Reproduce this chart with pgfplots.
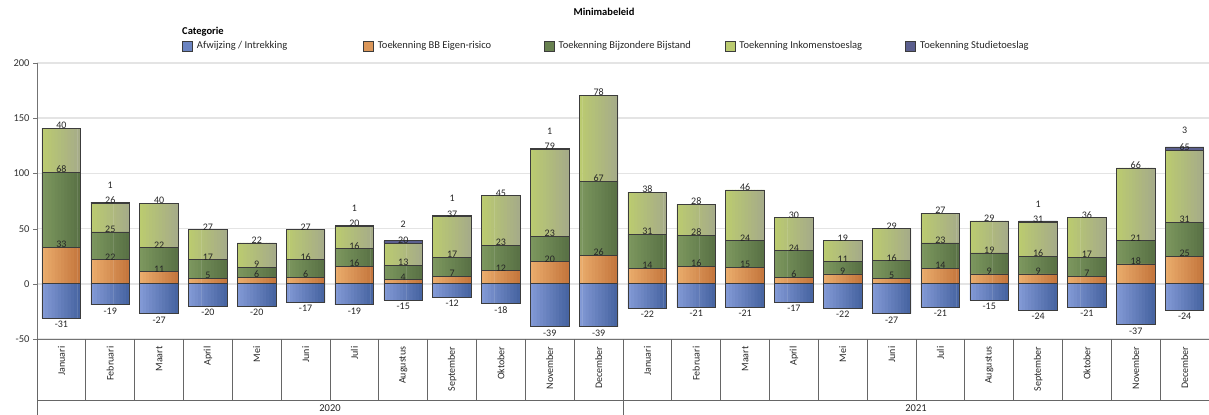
\documentclass[border=0pt]{standalone}
\usepackage{pgfplots}
\pgfplotsset{compat=1.18}
\usepackage{pgfplotstable}
\usepackage{fontspec}
\setmainfont{Carlito}

\definecolor{afL}{HTML}{8299D5}
\definecolor{afR}{HTML}{4865A2}
\definecolor{bbL}{HTML}{EAAC6C}
\definecolor{bbR}{HTML}{C5773E}
\definecolor{bijL}{HTML}{7C975E}
\definecolor{bijR}{HTML}{5A7246}
\definecolor{inkL}{HTML}{BBCB70}
\definecolor{inkR}{HTML}{A6AC88}
\definecolor{stu}{HTML}{5B5F8E}
\definecolor{gridc}{HTML}{E4E4E4}
\definecolor{edge}{HTML}{3C3C3C}

\pgfplotstableread{
x  af  bb  bij  ink  stu sl
0  -31 33  68   40   0   {}
1  -19 22  25   26   1   1
2  -27 11  22   40   0   {}
3  -20 5   17   27   0   {}
4  -20 6   9    22   0   {}
5  -17 6   16   27   0   {}
6  -19 16  16   20   1   1
7  -15 4   13   20   2   2
8  -12 7   17   37   1   1
9  -18 12  23   45   0   {}
10 -39 20  23   79   1   1
11 -39 26  67   78   0   {}
12 -22 14  31   38   0   {}
13 -21 16  28   28   0   {}
14 -21 15  24   46   0   {}
15 -17 6   24   30   0   {}
16 -22 9   11   19   0   {}
17 -27 5   16   29   0   {}
18 -21 14  23   27   0   {}
19 -15 9   19   29   0   {}
20 -24 9   16   31   1   1
21 -21 7   17   36   0   {}
22 -37 18  21   66   0   {}
23 -24 25  31   65   3   3
}\data

\pgfplotsset{
  sq legend/.style={legend image code/.code={%
    \draw[fill=#1,draw=edge,line width=0.8pt] (0pt,-5pt) rectangle (10pt,5pt);}},
  lab/.style={nodes near coords, point meta=explicit symbolic,
    visualization depends on={\thisrow{#1} \as \val},
    every node near coord/.append style={anchor=south, inner sep=0.5pt,
      yshift={0.552pt*(\val)-1.5pt}, text=black!85, font=\fontsize{10}{12}\selectfont}},
  frame/.style={scale only axis, width=1172pt, height=276pt,
    ybar stacked, bar width=0.79,
    xmin=-0.5, xmax=23.5, ymin=-50, ymax=200, clip=false},
}

\begin{document}
\begin{tikzpicture}[font=\fontsize{10.5}{12}\selectfont]
\begin{axis}[
  frame,
  axis x line*=bottom, axis y line*=left,
  axis line style={-, draw=black!55, line width=1pt},
  ytick={-50,0,50,100,150,200},
  ymajorgrids, grid style={gridc, line width=1.5pt},
  tick align=outside, major tick length=4pt,
  ytick style={draw=black!55},
  xtick style={draw=none},
  /pgf/number format/assume math mode=true,
  y tick label style={text=black!80, font=\fontsize{10.5}{12}\selectfont},
  xtick={0,...,23},
  xticklabels={Januari,Februari,Maart,April,Mei,Juni,Juli,Augustus,September,Oktober,November,December,
               Januari,Februari,Maart,April,Mei,Juni,Juli,Augustus,September,Oktober,November,December},
  x tick label style={rotate=90, anchor=east, text=black!85, font=\fontsize{10}{12}\selectfont},
  legend columns=5,
  legend cell align=left,
  legend style={draw=none, fill=none, at={(0.1237,1.0616)}, anchor=west,
    inner sep=0pt, nodes={inner sep=0pt},
    /tikz/every odd column/.append style={column sep=4pt},
    font=\fontsize{10.5}{12}\selectfont, text=black!85},
]
\addlegendimage{sq legend=afL!60!afR}
\addlegendentry{\makebox[166pt][l]{Afwijzing / Intrekking}}
\addlegendimage{sq legend=bbL!60!bbR}
\addlegendentry{\makebox[166pt][l]{Toekenning BB Eigen-risico}}
\addlegendimage{sq legend=bijL!40!bijR}
\addlegendentry{\makebox[166pt][l]{Toekenning Bijzondere Bijstand}}
\addlegendimage{sq legend=inkL}
\addlegendentry{\makebox[166pt][l]{Toekenning Inkomenstoeslag}}
\addlegendimage{sq legend=stu}
\addlegendentry{Toekenning Studietoeslag}

% kader met maanden en jaren
\pgfplotsinvokeforeach{-0.5,0.5,...,23.5}{
  \draw[black!60, line width=0.8pt] (axis cs:#1,-50) -- (axis cs:#1,-105.3);
}
\draw[black!60, line width=0.8pt] (axis cs:-0.5,-105.3) -- (axis cs:23.5,-105.3);
\draw[black!60, line width=0.8pt] (axis cs:-0.5,-50) -- (axis cs:-0.5,-118.5);
\draw[black!60, line width=0.8pt] (axis cs:11.5,-50) -- (axis cs:11.5,-118.5);
\node[text=black!85] at (axis cs:5.5,-112.3) {2020};
\node[text=black!85] at (axis cs:17.5,-112.3) {2021};

\node[font=\bfseries\fontsize{10.5}{12}\selectfont] at (axis description cs:0.4838,1.1848) {Minimabeleid};
\node[font=\bfseries\fontsize{10.5}{12}\selectfont, anchor=west, inner sep=0pt] at (axis description cs:0.1237,1.1123) {Categorie};

\coordinate (BL) at (axis cs:-1.258,-118.5);
\coordinate (TR) at (axis cs:23.5,257.1);
\end{axis}

% kleurverloop: twaalf smalle stroken per balk, licht links, donker rechts
\foreach \k in {0,...,11}{
  \pgfmathsetmacro\bs{-0.395+(\k+0.5)*0.065833}
  \pgfmathtruncatemacro\p{100-\k*100/11}
  \begin{axis}[frame, hide axis, bar width=0.075, bar shift=\bs]
  \addplot[draw=none, fill=afL!\p!afR] table[x=x, y=af]{\data};
  \addplot[draw=none, fill=bbL!\p!bbR] table[x=x, y=bb]{\data};
  \addplot[draw=none, fill=bijL!\p!bijR] table[x=x, y=bij]{\data};
  \addplot[draw=none, fill=inkL!\p!inkR] table[x=x, y=ink]{\data};
  \end{axis}
}

% randen en waarden
\begin{axis}[frame, hide axis]
\addplot[draw=edge, line width=0.8pt, fill=none, lab=af,
  every node near coord/.append style={anchor=north, yshift=-0.5pt}]
  table[x=x, y=af, meta=af]{\data};
\addplot[draw=edge, line width=0.8pt, fill=none, lab=bb] table[x=x, y=bb, meta=bb]{\data};
\addplot[draw=edge, line width=0.8pt, fill=none, lab=bij] table[x=x, y=bij, meta=bij]{\data};
\addplot[draw=edge, line width=0.8pt, fill=none, lab=ink] table[x=x, y=ink, meta=ink]{\data};
\addplot[draw=edge, line width=0.8pt, fill=stu, lab=stu,
  every node near coord/.append style={yshift=14pt}]
  table[x=x, y=stu, meta=sl]{\data};
\end{axis}
\pgfresetboundingbox
\path[use as bounding box] (BL) rectangle (TR);
\end{tikzpicture}
\end{document}
